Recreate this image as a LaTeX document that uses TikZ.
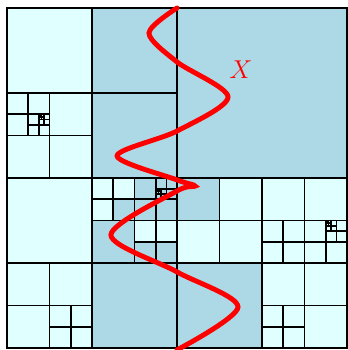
\documentclass[tikz,border=0pt]{standalone}
\usepackage{tikz}
\usepackage{xcolor}
\definecolor{cellcyan}{HTML}{E0FFFF}
\definecolor{cellblue}{HTML}{ADD8E6}
\definecolor{curvered}{HTML}{FF0000}
% split the cell with lower left corner (#1,#2) and side #3 into four
\newcommand{\splitcell}[3]{%
  \draw[gridline] ({#1+#3/2},#2) -- ++(0,#3)
    ({#1},{#2+#3/2}) -- ++(#3,0);
}

\begin{document}
\begin{tikzpicture}[
  x=0.5cm,
  y=0.5cm,
  gridline/.style={
    draw=black,
    line width=1.2pt
  },
  emptycell/.style={
    fill=cellcyan
  },
  hitcell/.style={
    fill=cellblue
  },
  curve/.style={
    draw=curvered,
    line width=3.3pt,
    line cap=round
  },
  curvelabel/.style={
    text=curvered,
    inner sep=0pt,
    font=\fontsize{18}{20}\selectfont
  }
]

  \useasboundingbox (-0.33,-0.094) rectangle (16,16.376);

  % Leaves: empty ones first, then the ones met by the curve
  \fill[emptycell] (0,0) rectangle (16,16);
  \fill[hitcell] (4,8) rectangle (16,16);
  \fill[hitcell] (4,0) rectangle (12,4);
  \fill[hitcell] (4,4) rectangle (6,6);
  \fill[hitcell] (5,6) rectangle (6,7);
  \fill[hitcell] (6,6) rectangle (8,8);
  \fill[hitcell] (6,4) rectangle (8,5);
  \fill[hitcell] (8,6) rectangle (10,8);

  % --- Root and quadrants ---
  \splitcell{0}{0}{16}
  \splitcell{0}{8}{8}
  \splitcell{0}{0}{8}
  \splitcell{8}{0}{8}

  % --- Top left quadrant ---
  \splitcell{0}{8}{4}
  \splitcell{0}{10}{2}
  \splitcell{1}{10}{1}
  \splitcell{1.5}{10.5}{0.5}
  \splitcell{1.5}{10.75}{0.25}
  \splitcell{1.5}{10.875}{0.125}
  \splitcell{1.5}{10.9375}{0.0625}

  % --- Bottom left quadrant ---
  \splitcell{0}{0}{4}
  \splitcell{2}{0}{2}
  \splitcell{4}{4}{4}
  \splitcell{4}{6}{2}
  \splitcell{6}{6}{2}
  \splitcell{6}{4}{2}
  \splitcell{7}{7}{1}
  \splitcell{7}{7}{0.5}
  \splitcell{7}{7.25}{0.25}
  \splitcell{7}{7.375}{0.125}
  \splitcell{7}{7.4375}{0.0625}

  % --- Bottom right quadrant ---
  \splitcell{8}{4}{4}
  \splitcell{12}{4}{4}
  \splitcell{12}{4}{2}
  \splitcell{14}{4}{2}
  \splitcell{15}{5}{1}
  \splitcell{15}{5.5}{0.5}
  \splitcell{15}{5.75}{0.25}
  \splitcell{15}{5.875}{0.125}
  \splitcell{15}{5.9375}{0.0625}
  \splitcell{12}{0}{4}
  \splitcell{12}{0}{2}

  % Outer frame
  \draw[gridline] (0,0) rectangle (16,16);

  % The curve X
  \draw[curve] plot[smooth] coordinates {
    (8,16) (6.68,14.82) (8,13.46) (10.40,11.81) (8,10.21) (5.18,9.04)
    (8,7.91) (8.85,7.62) (8,7.39) (4.89,5.32) (8,3.58) (10.87,1.93) (8,-0.09)
  };
  \node[curvelabel] (xlabel) at (11.01,13.08) {$X$};

\end{tikzpicture}
\end{document}
